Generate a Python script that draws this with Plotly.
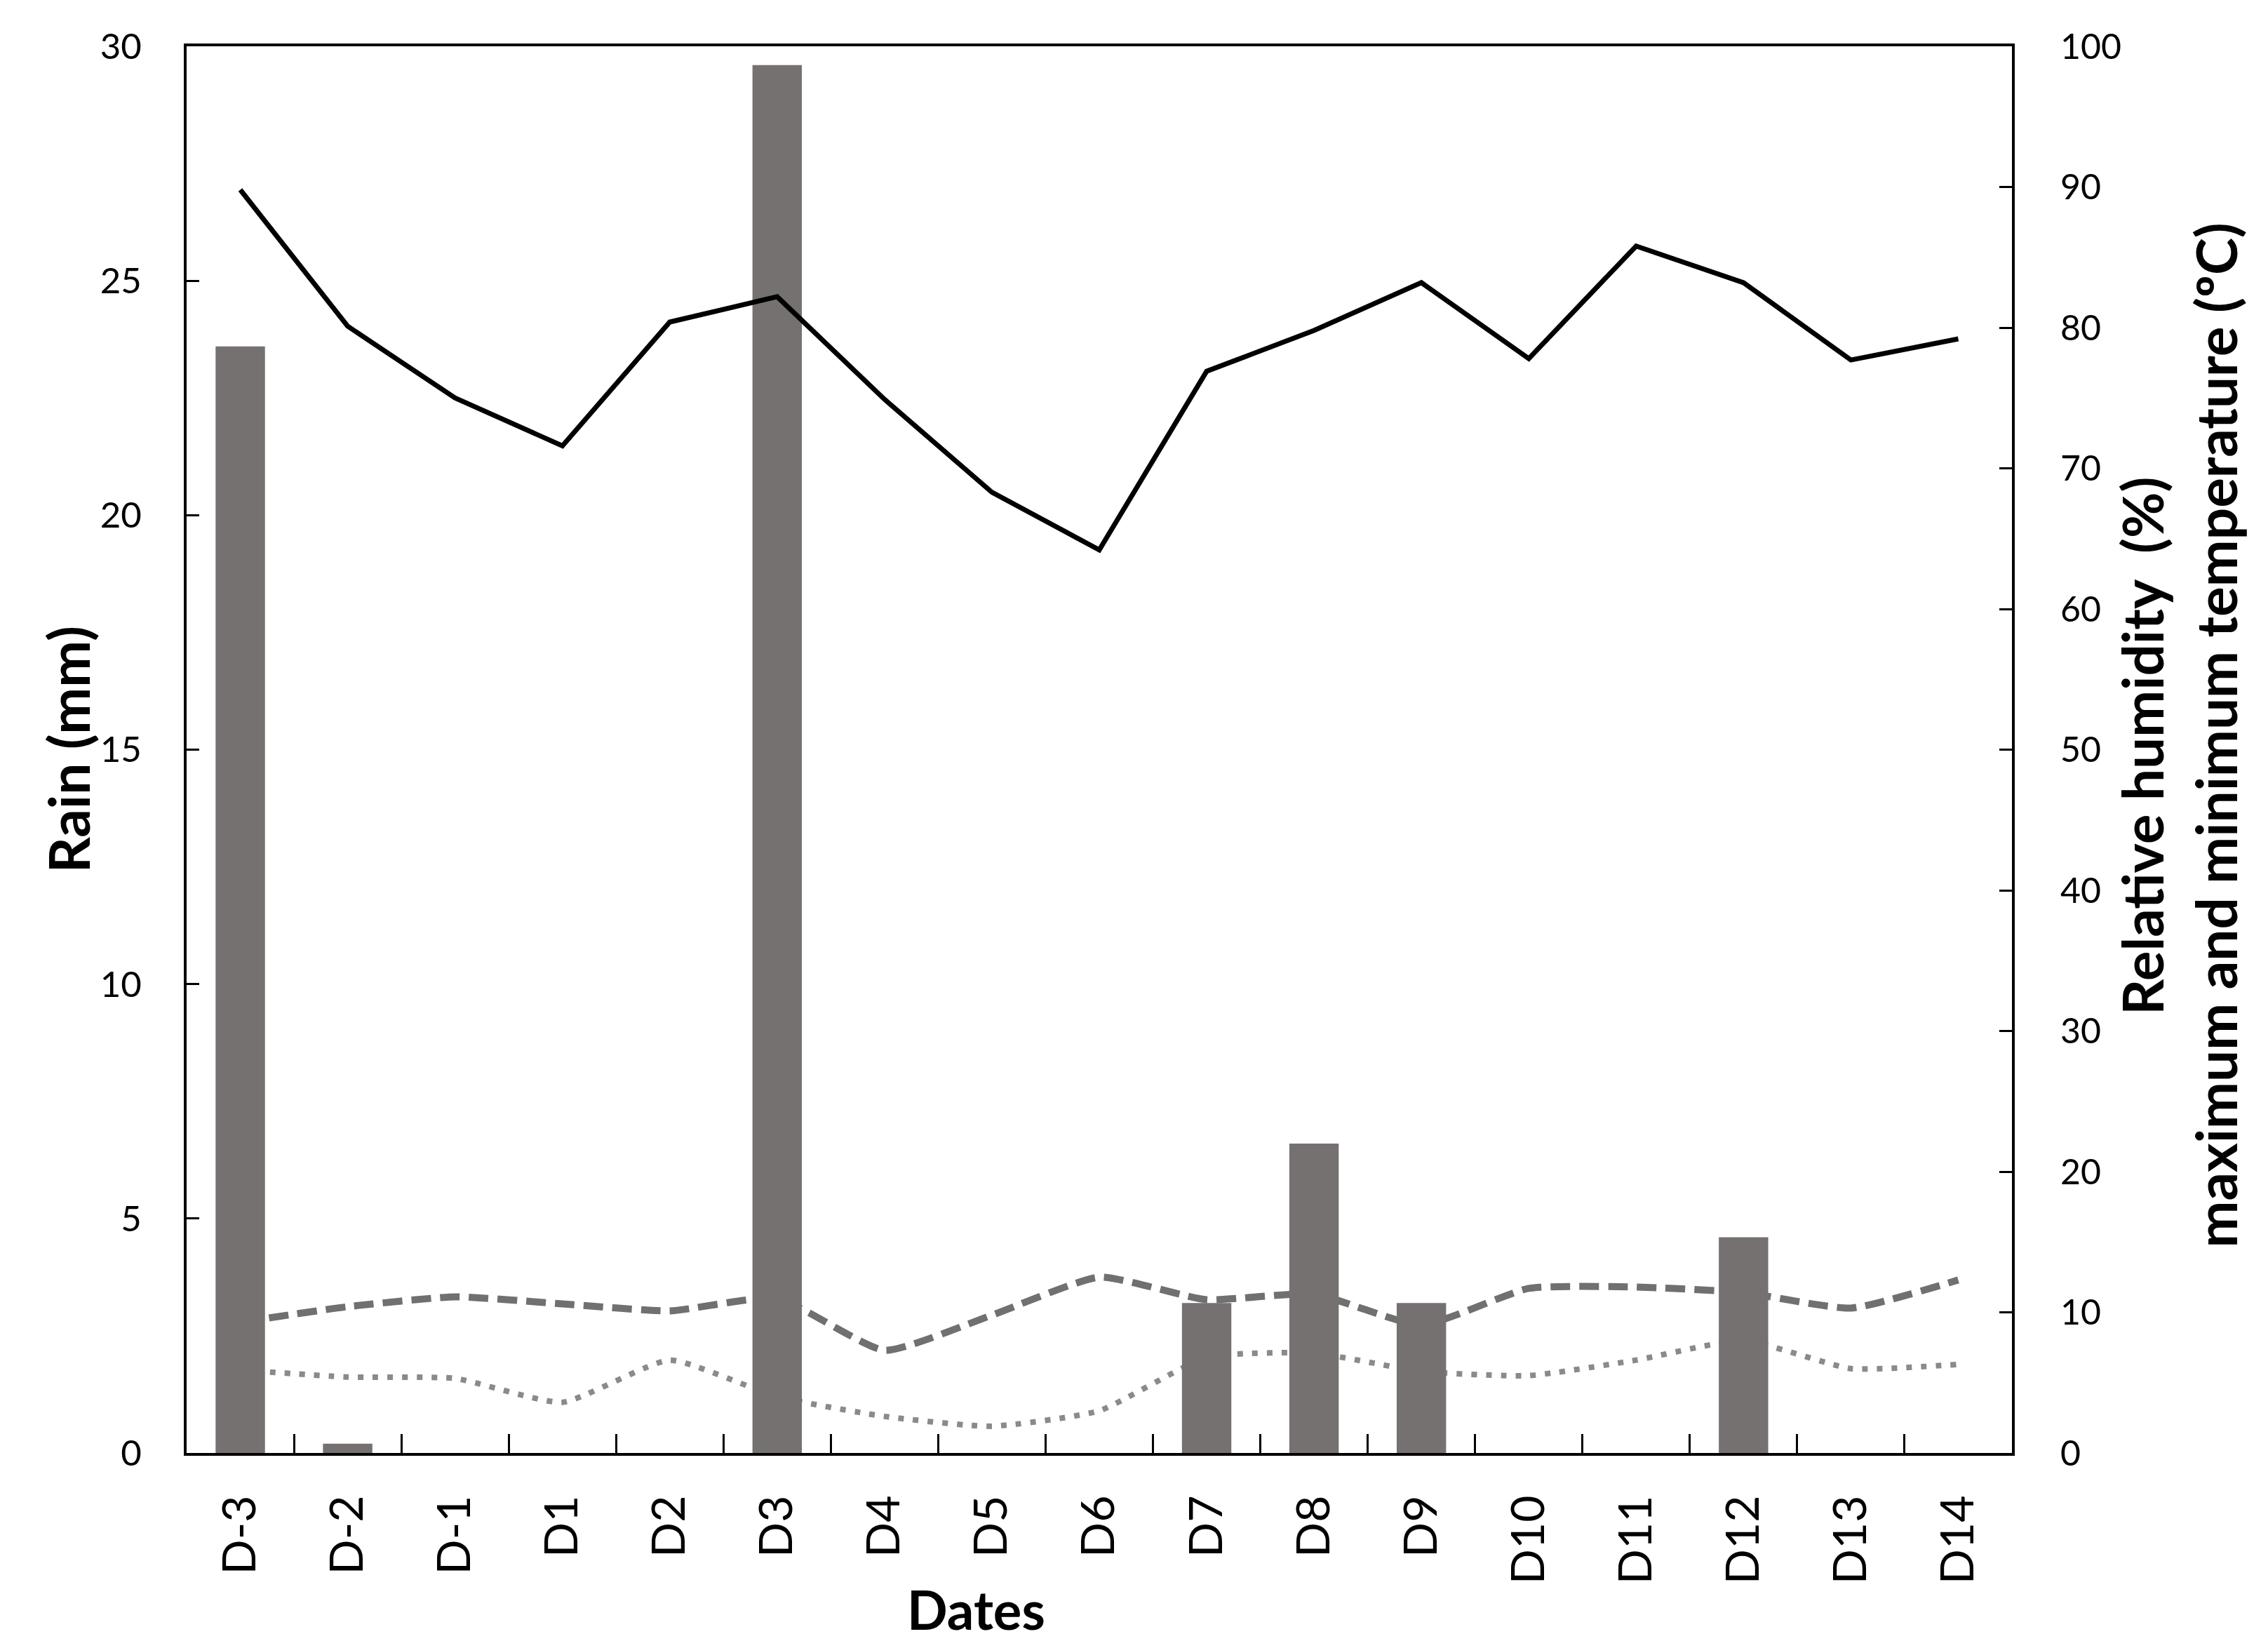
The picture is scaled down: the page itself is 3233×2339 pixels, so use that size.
import plotly.graph_objects as go

# days around the event
dates = ['D-3', 'D-2', 'D-1', 'D1', 'D2', 'D3', 'D4', 'D5', 'D6',
         'D7', 'D8', 'D9', 'D10', 'D11', 'D12', 'D13', 'D14']

rain_mm = [23.6, 0.2, 0, 0, 0, 29.6, 0, 0, 0,
           3.2, 6.6, 3.2, 0, 0, 4.6, 0, 0]

rel_humidity = [89.8, 80.1, 75.0, 71.6, 80.4, 82.2, 74.9, 68.3, 64.2,
                76.9, 79.8, 83.2, 77.8, 85.8, 83.2, 77.7, 79.2]

temp_max = [9.3, 10.4, 11.1, 10.6, 10.1, 11.0, 7.3, 9.8, 12.5,
            10.9, 11.3, 9.1, 11.7, 11.8, 11.4, 10.3, 12.3]

temp_min = [5.9, 5.4, 5.3, 3.6, 6.6, 4.0, 2.6, 1.9, 3.0,
            6.8, 7.1, 5.8, 5.5, 6.6, 8.0, 6.0, 6.3]

BAR_GREY = '#767171'
FONT = 'Lato'

fig = go.Figure()

# temperature lines sit underneath the bars (base subplot)
fig.add_trace(go.Scatter(x=dates, y=temp_max, mode='lines', yaxis='y',
                         line=dict(color='#707070', width=10, dash='28px,13px',
                                   shape='spline', smoothing=0.5),
                         name='Max temperature'))
fig.add_trace(go.Scatter(x=dates, y=temp_min, mode='lines', yaxis='y',
                         line=dict(color='#8a8a8a', width=8, dash='8px,13px',
                                   shape='spline', smoothing=0.5),
                         name='Min temperature'))

# rain bars on the left axis
fig.add_trace(go.Bar(x=dates, y=rain_mm, yaxis='y2', width=0.46,
                     marker=dict(color=BAR_GREY, line=dict(width=0)),
                     name='Rain'))

# relative humidity on top
fig.add_trace(go.Scatter(x=dates, y=rel_humidity, mode='lines', yaxis='y3',
                         line=dict(color='black', width=7),
                         name='Relative humidity'))

fig.update_layout(
    width=3233, height=2339,
    margin=dict(l=258, r=373, t=58, b=276),
    paper_bgcolor='white', plot_bgcolor='white',
    showlegend=False,
    font=dict(family=FONT, color='black'),
    xaxis=dict(
        type='category', tickson='boundaries', ticks='inside', ticklen=27,
        tickwidth=3, tickcolor='black', tickangle=-90,
        tickfont=dict(family=FONT, size=66, color='black'),
        ticklabelstandoff=30,
        showline=True, linecolor='black', linewidth=4, mirror=True,
        showgrid=False, zeroline=False,
    ),
    yaxis=dict(
        side='right', range=[0, 100], dtick=10, ticks='inside', ticklen=18,
        tickwidth=3, tickcolor='black',
        tickfont=dict(family=FONT, size=50, color='black'),
        ticklabelstandoff=55,
        showline=True, linecolor='black', linewidth=4,
        showgrid=False, zeroline=False,
    ),
    yaxis2=dict(
        overlaying='y', side='left', range=[0, 30], dtick=5, ticks='inside',
        ticklen=18, tickwidth=3, tickcolor='black',
        tickfont=dict(family=FONT, size=51, color='black'),
        ticklabelstandoff=50,
        showline=True, linecolor='black', linewidth=4,
        showgrid=False, zeroline=False,
    ),
    yaxis3=dict(
        overlaying='y', side='right', range=[0, 100], visible=False,
        showgrid=False, zeroline=False,
    ),
    bargap=0.54,
)

title_font = dict(family=FONT, size=76, color='black', weight='bold')
side_font = dict(family=FONT, size=80, color='black', weight='bold')

fig.add_annotation(text='Dates', xref='paper', yref='paper', x=0.4327, y=-0.111,
                   xanchor='center', yanchor='middle', showarrow=False, font=title_font)
fig.add_annotation(text='Rain (mm)', xref='paper', yref='paper', x=-0.0653, y=0.5,
                   xanchor='center', yanchor='middle', textangle=-90,
                   showarrow=False, font=side_font)
fig.add_annotation(text='Relative humidity \u00a0(%)', xref='paper', yref='paper',
                   x=1.0711, y=0.5027, xanchor='center', yanchor='middle',
                   textangle=-90, showarrow=False, font=side_font)
fig.add_annotation(text='maximum and minimum temperature (ºC)', xref='paper', yref='paper',
                   x=1.1115, y=0.51, xanchor='center', yanchor='middle',
                   textangle=-90, showarrow=False, font=side_font)

fig.write_html("out.html")
